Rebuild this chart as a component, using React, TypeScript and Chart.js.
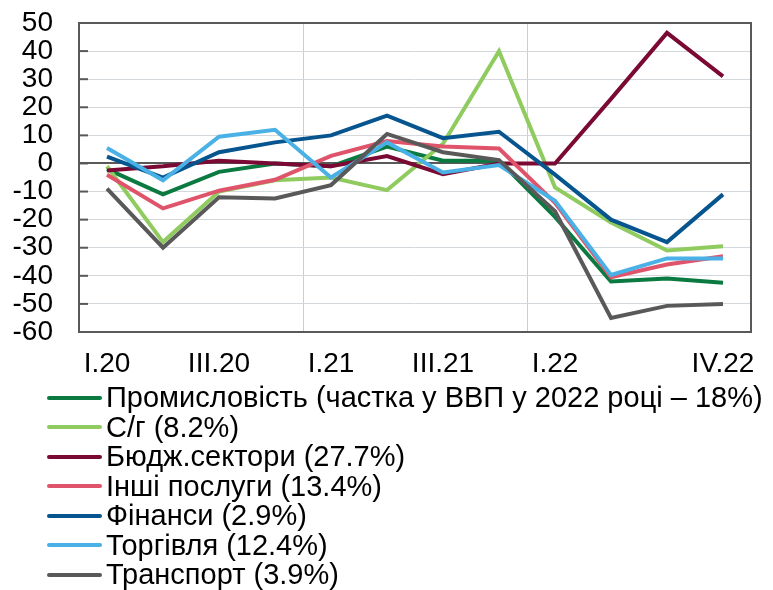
import React, { useEffect, useRef } from "react";
import { Chart, registerables } from "chart.js";

Chart.register(...registerables);

const categories = ["I.20", "II.20", "III.20", "IV.20", "I.21", "II.21", "III.21", "IV.21", "I.22", "II.22", "III.22", "IV.22"];
const shownTickLabels = ["I.20", "III.20", "I.21", "III.21", "I.22", "IV.22"];

const seriesNames = [
  "Промисловість (частка у ВВП у 2022 році – 18%)",
  "С/г (8.2%)",
  "Бюдж.сектори (27.7%)",
  "Інші послуги (13.4%)",
  "Фінанси (2.9%)",
  "Торгівля (12.4%)",
  "Транспорт (3.9%)",
];
const seriesColors = ["#0A7A40", "#8FCB5E", "#7A0A33", "#E0546B", "#06558F", "#4AB1E6", "#595959"];

const industry = [-2, -11, -3, 0, -1, 6, 1, 1, -19, -42, -41, -42.5];
const agriculture = [-1, -28, -10, -6, -5, -9.5, 7, 40, -8.5, -21, -31, -29.5];
const budgetSectors = [-2.5, -1, 1, 0, -1, 2.6, -3.8, 0, 0, 23, 46.5, 31];
const otherServices = [-4, -16, -9.7, -5.8, 2.7, 8, 6, 5.3, -14, -40.5, -36, -33];
const finance = [2.4, -5, 4, 7.5, 10, 17, 9, 11.3, -4, -20, -28, -11];
const trade = [5.5, -6, 9.5, 12, -5, 7.5, -3.2, -0.6, -13.3, -39.7, -33.8, -33.8];
const transport = [-9, -30, -12, -12.5, -7.7, 10.5, 4, 1.2, -17, -55, -50.7, -50];

const seriesValues = [industry, agriculture, budgetSectors, otherServices, finance, trade, transport];

const FONT = "'Liberation Sans', Arial, sans-serif";

const framePlugin = {
  id: "framePlugin",
  beforeDatasetsDraw(chart: any) {
    const { ctx, chartArea, scales } = chart;
    const y = scales.y;
    ctx.save();
    ctx.strokeStyle = "#595959";
    ctx.lineWidth = 2;
    y.ticks.forEach((t: any) => {
      const py = y.getPixelForValue(t.value);
      ctx.beginPath();
      ctx.moveTo(chartArea.left, py);
      ctx.lineTo(chartArea.left + 9, py);
      ctx.stroke();
    });
    ctx.strokeRect(chartArea.left, chartArea.top, chartArea.right - chartArea.left, chartArea.bottom - chartArea.top);
    ctx.restore();
  },
};

export default function App() {
  const canvasRef = useRef<HTMLCanvasElement>(null);

  useEffect(() => {
    if (!canvasRef.current) return;
    const chart = new Chart(canvasRef.current, {
      type: "line",
      data: {
        labels: categories,
        datasets: seriesNames.map((name, i) => ({
          label: name,
          data: seriesValues[i],
          borderColor: seriesColors[i],
          backgroundColor: seriesColors[i],
          borderWidth: 4,
          pointRadius: 0,
          tension: 0,
          fill: false,
          order: seriesNames.length - i,
        })),
      },
      options: {
        animation: false,
        responsive: false,
        maintainAspectRatio: false,
        layout: { padding: { top: 23, right: 22, left: 0, bottom: 0 } },
        plugins: { legend: { display: false }, tooltip: { enabled: false } },
        scales: {
          x: {
            offset: true,
            afterFit: (s: any) => {
              s.height = 50;
              s.paddingLeft = 0;
              s.paddingRight = 0;
            },
            grid: {
              offset: true,
              drawTicks: false,
              color: (c: any) => (c.index === 4 || c.index === 8 ? "#C8CED4" : "rgba(0,0,0,0)"),
              lineWidth: 1,
            },
            border: { display: true, color: "#595959", width: 2 },
            ticks: {
              autoSkip: false,
              maxRotation: 0,
              padding: 15,
              color: "#000",
              font: { family: FONT, size: 28 },
              callback: (_v: any, i: number) => (shownTickLabels.includes(categories[i]) ? categories[i] : ""),
            },
          },
          y: {
            min: -60,
            max: 50,
            afterFit: (s: any) => {
              s.width = 79;
              s.paddingTop = 0;
              s.paddingBottom = 0;
            },
            grid: {
              drawTicks: false,
              color: (c: any) => (c.tick && c.tick.value === 0 ? "#595959" : "#D3D8DD"),
              lineWidth: (c: any) => (c.tick && c.tick.value === 0 ? 2 : 1),
            },
            border: { display: true, color: "#595959", width: 2 },
            ticks: {
              stepSize: 10,
              autoSkip: false,
              padding: 26,
              color: "#000",
              font: { family: FONT, size: 28 },
            },
          },
        },
      },
      plugins: [framePlugin],
    });
    return () => chart.destroy();
  }, []);

  return (
    <div style={{ position: "absolute", left: 0, top: 0, width: 773, height: 590, background: "#fff", overflow: "hidden" }}>
      <canvas ref={canvasRef} width={773} height={382} style={{ display: "block", width: 773, height: 382 }} />
      <div style={{ position: "absolute", left: 47, top: 383, fontFamily: FONT, fontSize: 29, color: "#000" }}>
        {seriesNames.map((name, i) => (
          <div key={name} style={{ display: "flex", alignItems: "center", height: 29.5, whiteSpace: "nowrap" }}>
            <span style={{ display: "inline-block", width: 55, height: 4, borderRadius: 2, background: seriesColors[i], marginRight: 4 }} />
            <span style={{ lineHeight: "29.5px" }}>{name}</span>
          </div>
        ))}
      </div>
    </div>
  );
}
